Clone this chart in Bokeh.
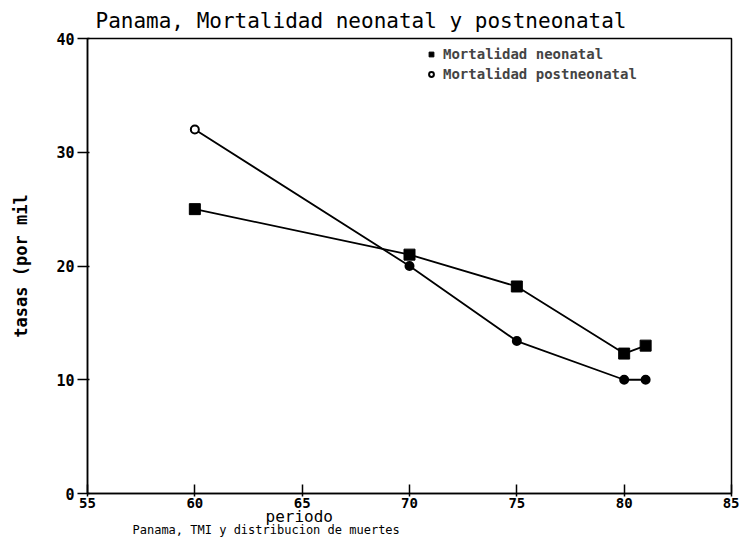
from bokeh.plotting import figure
from bokeh.models import (ColumnDataSource, Range1d, FixedTicker, Legend, LegendItem, Title)
from bokeh.embed import file_html
from bokeh.resources import INLINE

# ---- data ----
periodo = [60, 70, 75, 80, 81]
neonatal = [25.0, 21.0, 18.2, 12.3, 13.0]
postneonatal = [32.0, 20.0, 13.4, 10.0, 10.0]
post_fill = ["white", "black", "black", "black", "black"]
x_ticks = [55, 60, 65, 70, 75, 80, 85]
y_ticks = [0, 10, 20, 30, 40]

title_text = "Panama, Mortalidad neonatal y postneonatal"
x_label = "periodo"
y_label = "tasas (por mil"
bottom_text = "Panama, TMI y distribucion de muertes"
MONO = "DejaVu Sans Mono"

p = figure(width=739, height=540, output_backend="svg", toolbar_location=None,
           x_range=Range1d(55, 85), y_range=Range1d(0, 40),
           min_border_left=87, min_border_right=8, min_border_top=38, min_border_bottom=47)
p.xgrid.visible = False
p.ygrid.visible = False
p.outline_line_color = "black"
p.outline_line_width = 1.5
p.outline_line_alpha = 1.0
p.background_fill_color = "white"
p.border_fill_color = "white"

for ax in (p.xaxis, p.yaxis):
    ax.axis_line_width = 1.5
    ax.major_tick_line_width = 1.5
    ax.minor_tick_line_color = None
    ax.major_label_text_font = MONO
    ax.major_label_text_font_style = "bold"
    ax.major_label_text_font_size = "15px"
    ax.major_label_text_color = "black"

p.xaxis.major_label_text_font_size = "14px"
p.xaxis.ticker = FixedTicker(ticks=x_ticks)
p.yaxis.ticker = FixedTicker(ticks=y_ticks)
p.xaxis.major_tick_in = 9
p.xaxis.major_tick_out = 3
p.yaxis.major_tick_in = 2
p.yaxis.major_tick_out = 10
p.xaxis.major_label_standoff = 1
p.yaxis.major_label_standoff = 3

p.yaxis.axis_label = y_label
p.yaxis.axis_label_text_font = MONO
p.yaxis.axis_label_text_font_style = "bold"
p.yaxis.axis_label_text_font_size = "17px"
p.yaxis.axis_label_text_color = "black"
p.yaxis.axis_label_standoff = 22

src_n = ColumnDataSource(dict(x=periodo, y=neonatal))
src_p = ColumnDataSource(dict(x=periodo, y=postneonatal, f=post_fill))

p.line("x", "y", source=src_n, line_color="black", line_width=1.8)
p.line("x", "y", source=src_p, line_color="black", line_width=1.8)
rn = p.scatter("x", "y", source=src_n, marker="square", size=11,
               fill_color="black", line_color="black")
rp = p.scatter("x", "y", source=src_p, marker="circle", size=8,
               fill_color="f", line_color="black", line_width=2)

legend = Legend(items=[LegendItem(label="Mortalidad neonatal", renderers=[rn]),
                       LegendItem(label="Mortalidad postneonatal", renderers=[rp], index=0)],
                location=(338, 411), orientation="vertical",
                background_fill_alpha=0, border_line_color=None,
                label_text_font=MONO, label_text_font_style="bold",
                label_text_font_size="14px", glyph_width=12, glyph_height=12,
                label_standoff=6, spacing=4, padding=0, margin=0)
p.add_layout(legend, "center")

p.add_layout(Title(text=title_text, align="left", offset=8, standoff=11,
                   text_font=MONO, text_font_size="21px", text_font_style="normal",
                   text_color="black", text_line_height=1.0), "above")
p.add_layout(Title(text=x_label, align="left", offset=178, standoff=-11,
                   text_font=MONO, text_font_size="16px", text_font_style="normal",
                   text_color="black"), "below")
p.add_layout(Title(text=bottom_text, align="left", offset=45, standoff=1,
                   text_font=MONO, text_font_size="12px", text_font_style="normal",
                   text_color="black"), "below")

open("out.html", "w").write(file_html(p, INLINE))
